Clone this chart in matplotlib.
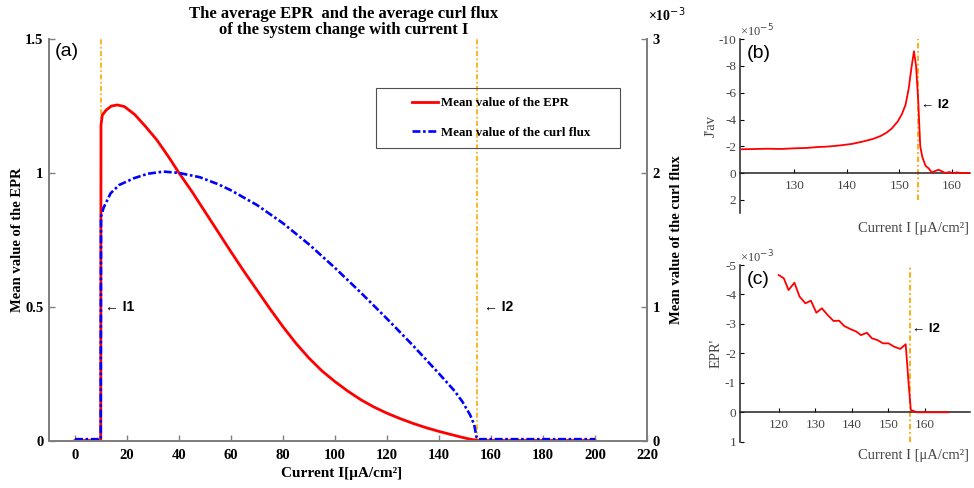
import numpy as np
import matplotlib
matplotlib.use('Agg')
import matplotlib.pyplot as plt
from matplotlib.patches import Rectangle

plt.rcParams['axes.unicode_minus'] = False

# ---- painel (a): EPR médio e fluxo de curl médio em função da corrente I ----
I_epr = [0, 9.9, 10.0, 10.5, 12, 14, 16.3, 19, 23, 27, 31.5, 36, 40, 45, 50, 55, 60, 65,
         70, 75, 80, 85, 90, 95, 100, 105, 110, 115, 120, 125, 130, 135, 140, 144, 148, 151.5,
         155, 200]
epr = [0, 0, 1.179, 1.216, 1.235, 1.25, 1.254, 1.248, 1.218, 1.175, 1.123, 1.06, 1.0, 0.93,
       0.855, 0.78, 0.705, 0.632, 0.562, 0.492, 0.425, 0.363, 0.308, 0.26, 0.22, 0.184, 0.152,
       0.125, 0.102, 0.082, 0.064, 0.048, 0.034, 0.024, 0.014, 0.006, 0.0, 0.0]

I_curl = [0, 9.9, 10.0, 11, 13.7, 17, 22.6, 28, 34, 40, 48, 55, 60, 70, 80, 90, 100, 110,
          120, 130, 140, 146, 149, 152, 153.5, 154.5, 155, 200]
curl = [0.01, 0.01, 1.674, 1.74, 1.848, 1.91, 1.96, 1.994, 2.01, 2.0, 1.968, 1.916, 1.87,
        1.76, 1.624, 1.466, 1.29, 1.104, 0.91, 0.71, 0.5, 0.37, 0.29, 0.19, 0.12, 0.02,
        0.01, 0.01]  # x 1e-3

I1, I2 = 10.0, 154.7

# ---- painel (b): J'av perto de I2 ----
I_j = [120, 122.5, 125, 127.5, 130, 132.5, 134.5, 136, 137.5, 139, 141, 143, 145, 146.5,
       147.5, 148.5, 149.7, 150.5, 151.2, 151.8, 152.3, 152.8, 153.2, 153.6, 154.0, 154.4,
       155.0, 155.6, 156.2, 156.8, 157.5, 158.2, 158.8, 159.5, 160.2, 161, 161.8, 163.5]
j_av = [-1.78, -1.80, -1.82, -1.80, -1.85, -1.88, -1.95, -1.97, -2.02, -2.08, -2.18, -2.35,
        -2.55, -2.78, -3.0, -3.3, -3.85, -4.4, -5.1, -6.3, -7.8, -9.1, -8.0, -5.5, -2.0, -1.2,
        -0.55, -0.35, -0.05, -0.15, -0.25, -0.12, 0.0, -0.08, 0.0, -0.05, 0.0, 0.0]  # x 1e-5
I2_b = 153.6

# ---- painel (c): EPR' perto de I2 ----
I_c = [120, 121.4, 122.7, 124.3, 125.7, 127.3, 128.8, 130.3, 131.8, 133.4, 135, 136.5, 137.9,
       139.5, 141.2, 142.5, 144.1, 145.5, 147.0, 148.5, 150, 151.5, 153.2, 154.7, 155.5, 156.1,
       157.7, 166.4]
epr_d = [-4.66, -4.55, -4.15, -4.40, -3.93, -3.70, -3.79, -3.38, -3.53, -3.30, -3.10, -3.11,
         -2.93, -2.83, -2.74, -2.62, -2.70, -2.51, -2.45, -2.34, -2.34, -2.23, -2.15, -2.31,
         -0.98, -0.08, 0.0, 0.0]  # x 1e-3
I2_c = 155.8

serif = 'Liberation Serif'
sans = 'Liberation Sans'
cinza = '#808080'
laranja = '#FFA500'
traco_laranja = (0, (3, 1.5, 1, 1.5))

fig = plt.figure(figsize=(9.74, 4.88), dpi=100)

# ================= painel (a) =================
ax = fig.add_axes([0.0503, 0.0973, 0.6140, 0.8225])
ax2 = ax.twinx()

ax.plot(I_epr, epr, color='red', lw=2.0)
ax2.plot(I_curl, curl, color='blue', lw=1.9, ls=(0, (3, 1, 1, 1)))
for xv in (I1, I2):
    ax.axvline(xv, color=laranja, lw=1.2, ls=traco_laranja, zorder=1)

ax.set_xlim(-10, 220)
ax.set_ylim(0, 1.5)
ax2.set_ylim(0, 3)

ax.set_xticks(np.arange(0, 221, 20))
ax.set_yticks([0, 0.5, 1, 1.5], ['0', '0.5', '1', '1.5'])
ax2.set_yticks([0, 1, 2, 3], ['0', '1', '2', '3'])

for a in (ax, ax2):
    a.spines['top'].set_visible(False)
    for s in ('left', 'right', 'bottom'):
        a.spines[s].set_color(cinza)
        a.spines[s].set_linewidth(1.4)
    a.tick_params(direction='in', length=4, color=cinza, width=1.0, labelsize=10.5, pad=4)
    for lab in a.get_xticklabels() + a.get_yticklabels():
        lab.set_fontfamily(serif)
        lab.set_fontweight('bold')
ax.tick_params(axis='x', pad=6)

ax.set_xlabel('Current I[μA/cm²]', fontfamily=serif, fontweight='bold', fontsize=11)
ax.xaxis.set_label_coords(0.49, -0.066)
ax.set_ylabel('Mean value of the EPR', fontfamily=serif, fontweight='bold', fontsize=10.5)
ax.yaxis.set_label_coords(-0.041, 0.5)
ax2.set_ylabel('Mean value of the curl flux', fontfamily=serif, fontweight='bold', fontsize=10.5)
ax2.yaxis.set_label_coords(1.038, 0.5)

ax2.text(1.002, 1.038, '×10$^{-3}$', transform=ax2.transAxes, fontfamily=serif,
         fontweight='bold', fontsize=10, ha='left', va='bottom')

fig.text(0.353, 0.988, 'The average EPR  and the average curl flux\nof the system change with current I',
         ha='center', va='top', fontfamily=serif, fontweight='bold', fontsize=12, linespacing=1.05)

ax.text(0.01, 0.99, '(a)', transform=ax.transAxes, fontfamily=sans, fontsize=14, va='top')
ax.text(I1 + 1.5, 0.5, '← I1', fontfamily=sans, fontweight='bold', fontsize=10, va='center')
ax.text(I2 + 2.5, 0.5, '← I2', fontfamily=sans, fontweight='bold', fontsize=10, va='center')

# legenda sem moldura + caixa desenhada à parte
linhas = [ax.lines[0], ax2.lines[0]]
fig.legend(linhas, ['Mean value of the EPR', 'Mean value of the curl flux'],
           loc='upper left', bbox_to_anchor=(412 / 974, 1 - 97 / 488), frameon=False,
           borderpad=0, borderaxespad=0, handlelength=2.0, handletextpad=0.25,
           labelspacing=1.35, prop={'family': serif, 'weight': 'bold', 'size': 9.3})
fig.patches.append(Rectangle((376 / 974, 1 - 148 / 488), 244 / 974, 60 / 488,
                             transform=fig.transFigure, fill=False, ec='#505050', lw=0.8))

# ================= paineis (b) e (c) =================
def painel_lateral(pos, xs, ys, ylim, xlim, yticks, xticks, i2, i2_y, v_rotulo, ylabel, lx,
                   expo, letra):
    axp = fig.add_axes(pos)
    axp.plot(xs, ys, color='red', lw=1.3, zorder=3)
    axp.set_ylim(*ylim)
    axp.set_xlim(*xlim)
    axp.vlines(i2, i2_y[0], i2_y[1], color=laranja, lw=1.3, ls=traco_laranja, zorder=2)
    axp.spines['bottom'].set_position(('data', 0))
    axp.spines['top'].set_visible(False)
    axp.spines['right'].set_visible(False)
    for s in ('left', 'bottom'):
        axp.spines[s].set_color('#222222')
        axp.spines[s].set_linewidth(1.1)
    axp.set_yticks(yticks, [str(v) for v in yticks])
    axp.set_xticks(xticks, [str(v) for v in xticks])
    axp.tick_params(direction='in', length=3, labelsize=9.5, labelcolor='#444444', pad=3)
    axp.tick_params(axis='x', pad=5)
    for lab in axp.get_xticklabels() + axp.get_yticklabels():
        lab.set_fontfamily(serif)
    axp.set_ylabel(ylabel, fontfamily=serif, fontsize=10.5, color='#444444')
    axp.yaxis.set_label_coords(lx, 0.5)
    axp.text(0.0, 1.0, '×10$^{' + expo + '}$', transform=axp.transAxes, fontfamily=serif,
             fontsize=9, color='#444444', ha='left', va='bottom')
    axp.text(0.03, 0.965, letra, transform=axp.transAxes, fontfamily=sans, fontsize=14, va='top')
    axp.text(i2 + 0.6, v_rotulo, '← I2', fontfamily=sans, fontweight='bold', fontsize=9.5,
             va='center')
    return axp

axb = painel_lateral([0.760, 0.563, 0.236, 0.3567], I_j, j_av, (3, -10), (119.7, 163.5),
                     list(range(-10, 3, 2)), [130, 140, 150, 160], I2_b, (2, -10), -5.1,
                     "J'av", -0.10, '-5', '(b)')
axc = painel_lateral([0.760, 0.0949, 0.236, 0.362], I_c, epr_d, (1, -5), (109.5, 172.3),
                     list(range(-5, 2)), [120, 130, 140, 150, 160], I2_c, (1, -5), -2.83,
                     "EPR'", -0.075, '-3', '(c)')

fig.text(0.995, 1 - 229 / 488, 'Current I [μA/cm²]', ha='right', va='center', fontfamily=serif,
         fontsize=10.5, color='#444444')
fig.text(0.995, 1 - 455 / 488, 'Current I [μA/cm²]', ha='right', va='center', fontfamily=serif,
         fontsize=10.5, color='#444444')

fig.savefig('out.png', dpi=100)
